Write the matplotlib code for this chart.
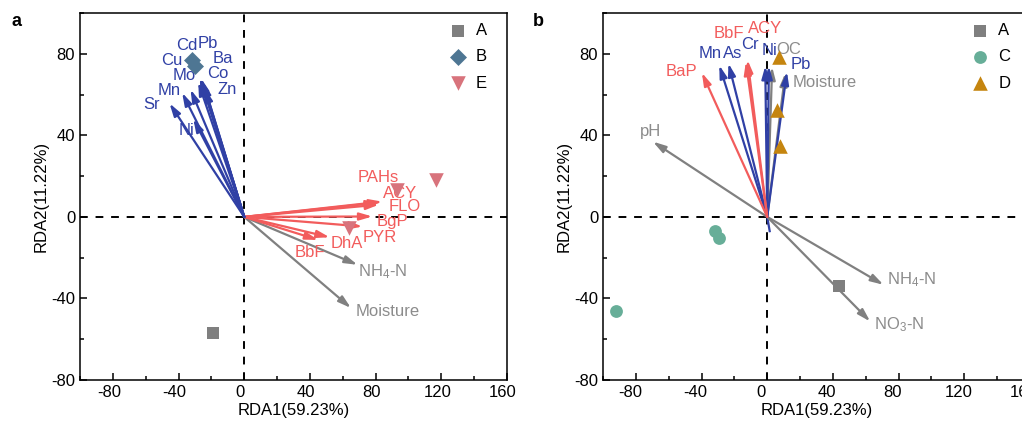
# RDA biplots - two panels
import matplotlib
matplotlib.use('Agg')
from matplotlib import pyplot as plt
from matplotlib.transforms import ScaledTranslation

plt.rcParams['font.family'] = ['Liberation Sans', 'DejaVu Sans']
plt.rcParams['mathtext.fontset'] = 'custom'
plt.rcParams['mathtext.rm'] = 'Liberation Sans'
plt.rcParams['mathtext.it'] = 'Liberation Sans:italic'
plt.rcParams['axes.unicode_minus'] = False

# ---- panel a : sample scores ----
a_groups = ['A', 'B', 'E']
a_x = [[-19], [-32, -30], [117, 93, 64]]
a_y = [[-57], [77, 74], [18, 13, -5.5]]

# ---- panel a : vectors ----
a_metal_names = ['Cd', 'Pb', 'Cu', 'Ba', 'Mo', 'Co', 'Mn', 'Zn', 'Sr', 'Ni']
a_metal_x = [-27, -26, -28, -25, -32.7, -26.2, -37.8, -24, -45.5, -31]
a_metal_y = [68, 67, 66, 66, 62.5, 67.9, 60.9, 63, 55.7, 48]

a_pah_names = ['PAHs', 'ACY', 'FLO', 'BgP', 'PYR', 'DhA', 'BbF']
a_pah_x = [82, 84, 82, 78, 72, 52, 45]
a_pah_y = [7, 7.5, 6, 0.2, -4.7, -10, -11.3]

a_env_names = ['NH$_4$-N', 'Moisture']
a_env_x = [69, 65]
a_env_y = [-23.5, -44.7]

# ---- panel b : sample scores ----
b_groups = ['A', 'C', 'D']
b_x = [[44], [-31.7, -29.6, -92], [6.9, 5.9, 7.9]]
b_y = [[-33.8], [-6.7, -10.4, -46], [78.5, 52.4, 34.8]]

# ---- panel b : vectors ----
b_metal_names = ['Mn', 'As', 'Cr', 'Ni', 'Pb']
b_metal_x = [-29.2, -23.6, -1.2, 1.0, 12]
b_metal_y = [74.4, 75.3, 74, 74, 71.2]

b_pah_names = ['BaP', 'BbF', 'ACY']
b_pah_x = [-39.8, -13, -12]
b_pah_y = [70.7, 76, 77]

b_env_names = ['OC', 'Moisture', 'pH', 'NH$_4$-N', 'NO$_3$-N']
b_env_x = [3, 11, -69.6, 70.8, 62.7]
b_env_y = [73.6, 70.5, 36.9, -33.3, -51.3]

# label positions (layout only)
a_metal_lab = [(-35, 84), (-22, 85), (-44, 76.5), (-13, 77.5), (-36.5, 69.5),
               (-16, 70.5), (-45.5, 62), (-10.5, 62.5), (-56.5, 55), (-35, 42.5)]
a_pah_lab = [(81.5, 19.5), (95, 11.5), (97.5, 5), (90.5, -2.3), (82.5, -10),
             (62.5, -13), (40, -17.5)]
a_env_lab = [(84.5, -27), (87.5, -46.5)]

b_metal_lab = [(-34.5, 80), (-21, 80), (-10.5, 84.5), (1.5, 81.5), (20.5, 74.5)]
b_pah_lab = [(-52, 71.5), (-23.5, 90), (-1.5, 92.5)]
b_env_lab = [(13, 82), (35, 66), (-71, 42), (88, -31), (80, -53)]

blue = '#3040A5'
red = '#F25C5C'
grey = '#808080'
grey_txt = '#8C8C8C'

markers = {'A': ('s', '#7F7F7F', 80), 'B': ('D', '#4E7693', 75),
           'E': ('v', '#D8737C', 110), 'C': ('o', '#67AE98', 85),
           'D': ('^', '#C5850F', 110)}


def arrows(ax, names, xs, ys, labs, col, tcol, lw=1.6):
    for n, x, y, (lx, ly) in zip(names, xs, ys, labs):
        ax.annotate('', xy=(x, y), xytext=(0, 0),
                    arrowprops=dict(arrowstyle='-|>,head_length=0.75,head_width=0.22',
                                    color=col, lw=lw, shrinkA=0, shrinkB=0))
        ax.text(lx, ly, n, color=tcol, fontsize=12, ha='center', va='center')


def setup(ax, dx):
    ax.set_xlim(-100, 160)
    ax.set_ylim(-80, 100)
    ax.set_xticks([-80, -40, 0, 40, 80, 120, 160])
    ax.set_yticks([-80, -40, 0, 40, 80])
    ax.set_xticks(range(-100, 161, 20), minor=True)
    ax.set_yticks(range(-80, 101, 20), minor=True)
    ax.tick_params(which='both', direction='in', top=False, right=False,
                   labelsize=12, width=1.1)
    ax.tick_params(which='major', length=5)
    ax.tick_params(which='minor', length=3)
    shift = ScaledTranslation(dx / 100, 0, fig.dpi_scale_trans)
    for lab in ax.get_xticklabels():
        lab.set_transform(lab.get_transform() + shift)
    for s in ax.spines.values():
        s.set_linewidth(1.1)
    ax.axhline(0, color='black', ls=(0, (4, 4)), lw=1.4, zorder=1)
    ax.axvline(0, color='black', ls=(0, (4, 4)), lw=1.4, zorder=1)
    ax.set_xlabel('RDA1(59.23%)', fontsize=12, labelpad=2)
    ax.set_ylabel('RDA2(11.22%)', fontsize=12, labelpad=2)


def add_legend(ax):
    ax.legend(loc='upper right', bbox_to_anchor=(0.977, 1.0), frameon=False,
              fontsize=12, handlelength=1.0, handletextpad=0.6,
              labelspacing=0.68, borderaxespad=0.2)


fig = plt.figure(figsize=(10.22, 4.26), dpi=100)
ax1 = fig.add_axes([80 / 1022, 46 / 426, 427 / 1022, 367 / 426])
ax2 = fig.add_axes([603 / 1022, 46 / 426, 427 / 1022, 367 / 426])

# panel a
setup(ax1, -4)
arrows(ax1, a_env_names, a_env_x, a_env_y, a_env_lab, grey, grey_txt)
arrows(ax1, a_pah_names, a_pah_x, a_pah_y, a_pah_lab, red, red)
arrows(ax1, a_metal_names, a_metal_x, a_metal_y, a_metal_lab, blue, blue)
for g, xs, ys in zip(a_groups, a_x, a_y):
    m, c, s = markers[g]
    ax1.scatter(xs, ys, marker=m, color=c, s=s, label=g, zorder=3, linewidths=0)
add_legend(ax1)

# panel b
setup(ax2, -6)
ax2.plot([0, 1.5], [0, -7], color=blue, lw=1.6, zorder=2)
arrows(ax2, b_env_names, b_env_x, b_env_y, b_env_lab, grey, grey_txt)
arrows(ax2, b_metal_names, b_metal_x, b_metal_y, b_metal_lab, blue, blue)
arrows(ax2, b_pah_names, b_pah_x, b_pah_y, b_pah_lab, red, red)
for g, xs, ys in zip(b_groups, b_x, b_y):
    m, c, s = markers[g]
    ax2.scatter(xs, ys, marker=m, color=c, s=s, label=g, zorder=3, linewidths=0)
add_legend(ax2)

fig.text(12 / 1022, 1 - 22 / 426, 'a', fontsize=13, fontweight='bold', va='center')
fig.text(533 / 1022, 1 - 22 / 426, 'b', fontsize=13, fontweight='bold', va='center')

fig.savefig('out.png', dpi=100)
